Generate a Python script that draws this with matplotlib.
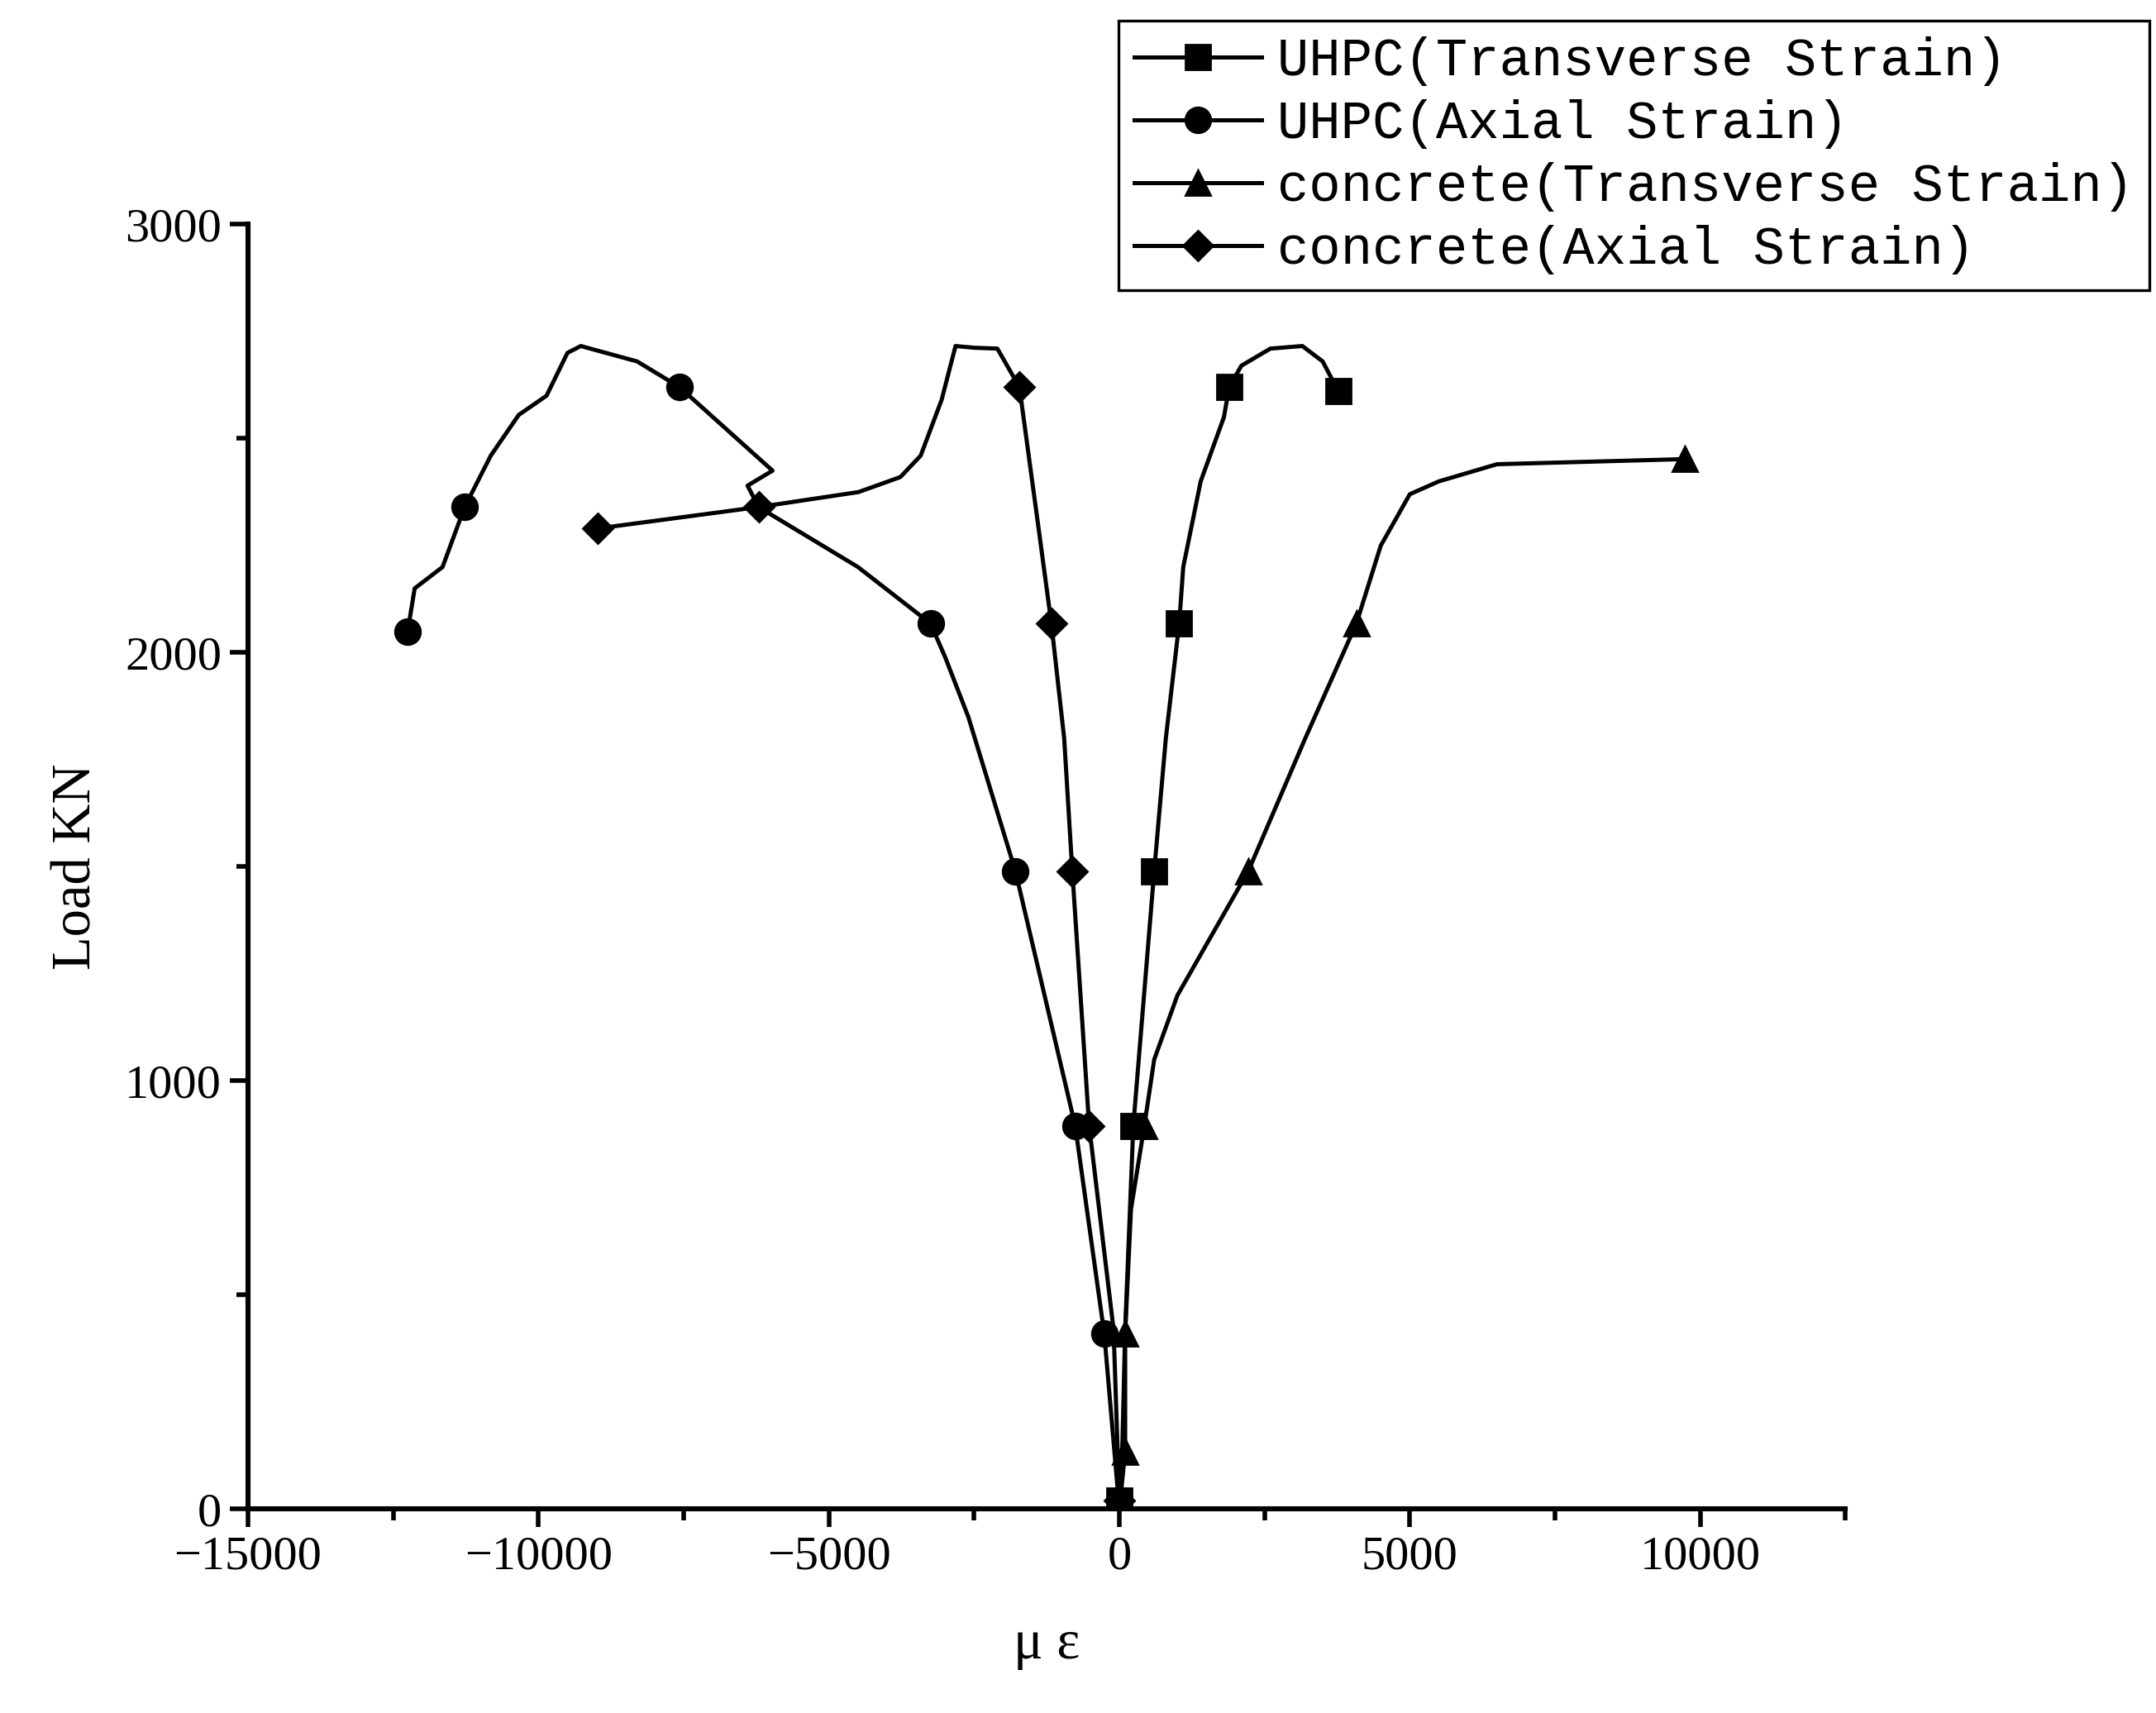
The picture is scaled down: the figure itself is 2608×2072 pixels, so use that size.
import matplotlib.pyplot as plt
from matplotlib.ticker import MultipleLocator

plt.rcParams['font.family'] = ['Liberation Serif', 'DejaVu Serif']

# UHPC transverse strain
ut_x = [0, 0, 50, 100, 240, 600, 800, 1030, 1100, 1400, 1800, 1890, 2100, 2600, 3150, 3500, 3770]
ut_y = [0, 20, 140, 420, 895, 1490, 1800, 2068, 2200, 2400, 2550, 2620, 2670, 2710, 2716, 2680, 2610]
ut_mk = [1, 4, 5, 7, 11, 16]

# UHPC axial strain
ua_x = [0, -260, -760, -1790, -2600, -3000, -3250, -4500, -6210, -6400, -5970, -7570,
        -8300, -9270, -9500, -9860, -10340, -10820, -11270, -11650, -12130, -12250]
ua_y = [0, 410, 895, 1490, 1850, 1990, 2068, 2200, 2340, 2390, 2425, 2620,
        2680, 2716, 2700, 2600, 2555, 2460, 2340, 2200, 2150, 2050]
ua_mk = [1, 2, 3, 6, 11, 18, 21]

# concrete transverse strain
ct_x = [0, 100, 100, 200, 430, 600, 1000, 2220, 3200, 4080, 4500, 5000, 5500, 6500, 9740]
ct_y = [0, 135, 410, 700, 895, 1050, 1200, 1490, 1800, 2068, 2250, 2370, 2400, 2440, 2452]
ct_mk = [1, 2, 4, 7, 9, 14]

# concrete axial strain
ca_x = [0, 0, -100, -520, -810, -950, -1170, -1400, -1720, -2100, -2500, -2820,
        -3060, -3420, -3770, -4490, -6210, -8980]
ca_y = [0, 20, 420, 895, 1490, 1800, 2068, 2300, 2620, 2710, 2712, 2716,
        2590, 2460, 2410, 2375, 2340, 2290]
ca_mk = [1, 3, 4, 6, 8, 16, 17]

fig = plt.figure(figsize=(13.04, 10.36), dpi=200)
ax = fig.add_axes([0.115, 0.119, 0.741, 0.750])

kw = dict(color='black', lw=1.8, ms=11)
ax.plot(ut_x, ut_y, marker='s', markevery=ut_mk, label='UHPC(Transverse Strain)', **kw)
ax.plot(ua_x, ua_y, marker='o', markevery=ua_mk, label='UHPC(Axial Strain)', **kw)
ax.plot(ct_x, ct_y, marker='^', markevery=ct_mk, label='concrete(Transverse Strain)', **kw)
ax.plot(ca_x, ca_y, marker='D', markevery=ca_mk, label='concrete(Axial Strain)',
        color='black', lw=1.8, ms=9)

ax.set_xlim(-15000, 12500)
ax.set_ylim(0, 3000)
ax.xaxis.set_major_locator(MultipleLocator(5000))
ax.xaxis.set_minor_locator(MultipleLocator(2500))
ax.yaxis.set_major_locator(MultipleLocator(1000))
ax.yaxis.set_minor_locator(MultipleLocator(500))
for s in ['top', 'right']:
    ax.spines[s].set_visible(False)
for s in ['left', 'bottom']:
    ax.spines[s].set_linewidth(2.2)
ax.tick_params(which='major', direction='out', length=8, width=2, labelsize=21)
ax.tick_params(which='minor', direction='out', length=5, width=2)
ax.set_xlabel('μ ε', fontsize=24, labelpad=18)
ax.set_ylabel('Load KN', fontsize=24, labelpad=10)

leg = fig.legend(loc='upper right', bbox_to_anchor=(0.997, 0.988),
                 prop={'family': 'Liberation Mono', 'size': 23},
                 fancybox=False, edgecolor='black', framealpha=1,
                 handlelength=2.4, handletextpad=0.3, borderaxespad=0,
                 borderpad=0.3, labelspacing=0.25)
leg.get_frame().set_linewidth(1.2)

fig.savefig('out.png')
